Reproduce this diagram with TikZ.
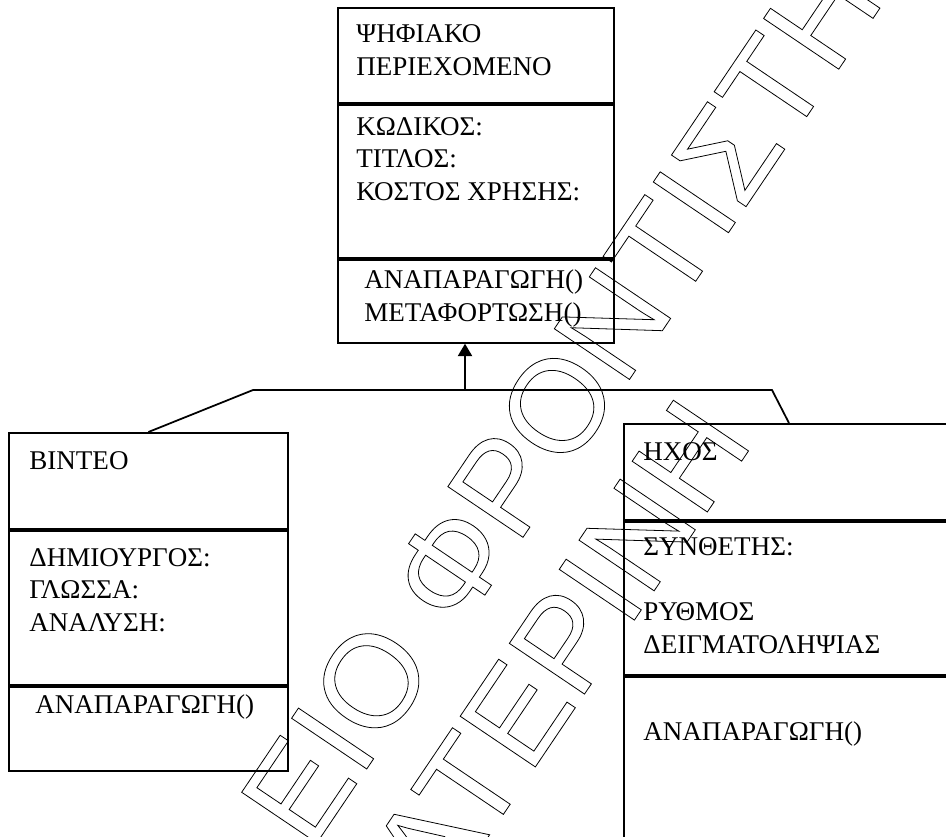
\documentclass[tikz,border=0pt]{standalone}
\usepackage{fontspec}
\setmainfont{Liberation Serif}
\newfontfamily\wmfont{Liberation Sans}
\usetikzlibrary{arrows.meta,positioning}
\newcommand{\outlined}[1]{\special{pdf:literal direct 1 Tr 0.45 w}#1\special{pdf:literal direct 0 Tr}}

\begin{document}
\begin{tikzpicture}[x=0.02cm, y=-0.02cm,
  part/.style={draw, line width=1.1pt, anchor=north west, inner sep=0pt},
  txt/.style={anchor=base west, inner sep=0pt, align=left, font=\fontsize{15.4}{18.5}\selectfont},
  link/.style={line width=1pt},
  inherit/.style={line width=1pt, -{Triangle[length=7pt,width=8pt]}},
  wm/.style={anchor=base west, inner sep=0pt, rotate=56, font=\wmfont\fontsize{75}{75}\selectfont}]
  \useasboundingbox (0,0) rectangle (946,836);
  \clip (0,0) rectangle (946,836);
  % watermark
  \begin{scope}
    \node[wm] (wm1) at (310.6,852.2) {\outlined{ΕΙΟ ΦΡΟΝΤΙΣΤΗ}};
    \node[wm] (wm2) at (440.4,907.7) {\outlined{ΑΤΕΡΙΝΗ}};
  \end{scope}
  % digital content (multi-line texts sit on their last baseline)
  \node[part, minimum width=5.52cm, minimum height=1.9cm] (c1) at (337,7) {};
  \node[part, minimum width=5.52cm, minimum height=3.06cm] (c2) at (c1.south west) {};
  \node[part, minimum width=5.52cm, minimum height=1.66cm] (c3) at (c2.south west) {};
  \node[txt] (cname) at (356,75) {ΨΗΦΙΑΚΟ\\ΠΕΡΙΕΧΟΜΕΝΟ};
  \node[txt] (cattr) at (356,200) {ΚΩΔΙΚΟΣ:\\ΤΙΤΛΟΣ:\\ΚΟΣΤΟΣ ΧΡΗΣΗΣ:};
  \node[txt] (cop) at (364,321) {ΑΝΑΠΑΡΑΓΩΓΗ()\\ΜΕΤΑΦΟΡΤΩΣΗ()};
  % video
  \node[part, minimum width=5.58cm, minimum height=1.92cm] (v1) at (8,432) {};
  \node[part, minimum width=5.58cm, minimum height=3.08cm] (v2) at (v1.south west) {};
  \node[part, minimum width=5.58cm, minimum height=1.68cm] (v3) at (v2.south west) {};
  \node[txt] (vname) at (29,469) {ΒΙΝΤΕΟ};
  \node[txt] (vattr) at (29,631) {ΔΗΜΙΟΥΡΓΟΣ:\\ΓΛΩΣΣΑ:\\ΑΝΑΛΥΣΗ:};
  \node[txt] (vop) at (35,713) {ΑΝΑΠΑΡΑΓΩΓΗ()};
  % audio
  \node[part, minimum width=7.6cm, minimum height=1.92cm] (a1) at (623,423) {};
  \node[part, minimum width=7.6cm, minimum height=3.06cm] (a2) at (a1.south west) {};
  \node[part, minimum width=7.6cm, minimum height=4.6cm] (a3) at (a2.south west) {};
  \node[txt] (aname) at (643,460) {ΗΧΟΣ};
  \node[txt] (aattr) at (643,653) {ΣΥΝΘΕΤΗΣ:\\[18.5pt]ΡΥΘΜΟΣ\\ΔΕΙΓΜΑΤΟΛΗΨΙΑΣ};
  \node[txt] (aop) at (643,740) {ΑΝΑΠΑΡΑΓΩΓΗ()};
  % generalisation
  \coordinate (jl) at (253,390);
  \coordinate (jm) at (465,390);
  \coordinate (jr) at (772,390);
  \draw[link] (v1.north) -- (jl) -- (jr) -- ([xshift=3.32cm]a1.north west);
  \draw[inherit] (jm) -- (jm |- c3.south);
\end{tikzpicture}
\end{document}
